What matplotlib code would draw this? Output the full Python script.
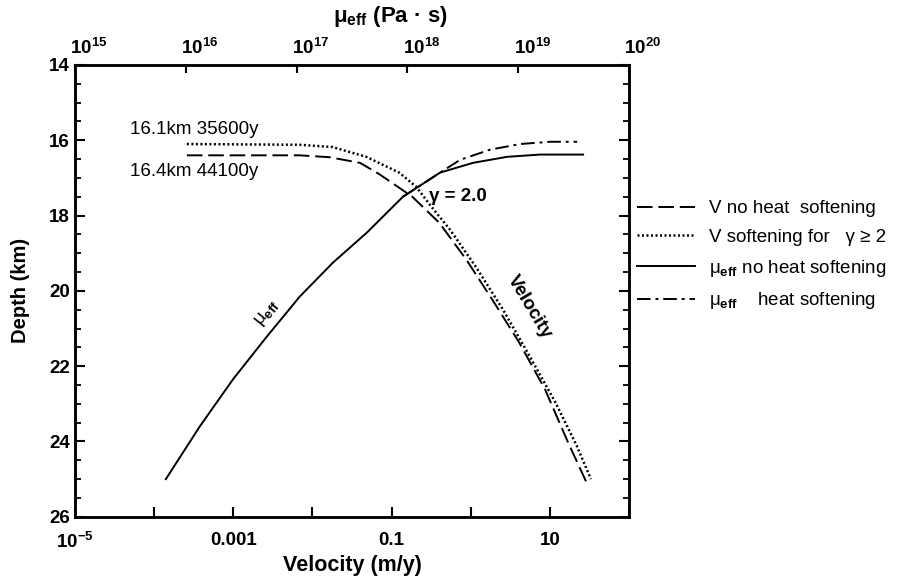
import matplotlib
matplotlib.use("Agg")
import matplotlib.pyplot as plt
from matplotlib.lines import Line2D
from matplotlib.transforms import ScaledTranslation
from matplotlib.ticker import FixedLocator, MultipleLocator, NullLocator, FixedFormatter

plt.rcParams["font.family"] = ["Liberation Sans", "DejaVu Sans"]
plt.rcParams["mathtext.fontset"] = "custom"
plt.rcParams["mathtext.rm"] = "Liberation Sans:bold"
plt.rcParams["mathtext.bf"] = "Liberation Sans:bold"
plt.rcParams["mathtext.it"] = "Liberation Sans:bold"
plt.rcParams["mathtext.default"] = "rm"

# velocity (m/y) vs depth (km), no heat softening (dashed)
vel_nosoft = [2.6e-4, 6.9e-3, 0.0164, 0.040, 0.070, 0.183, 0.40, 0.88, 1.87, 4.09, 8.7, 17.0, 28.6]
depth_vel_nosoft = [16.4, 16.4, 16.45, 16.6, 16.9, 17.5, 18.19, 19.17, 20.23, 21.37, 22.62, 24.03, 25.06]

# velocity with softening for gamma >= 2 (dotted)
vel_soft = [2.6e-4, 6.9e-3, 0.0179, 0.048, 0.125, 0.206, 0.32, 0.55, 1.16, 2.56, 5.6, 11.8, 22.0, 33.0]
depth_vel_soft = [16.1, 16.12, 16.18, 16.44, 16.86, 17.24, 17.77, 18.38, 19.36, 20.5, 21.75, 22.97, 24.13, 25.0]

# effective viscosity (Pa s), no heat softening (solid)
mu_nosoft = [6.62e15, 1.34e16, 2.67e16, 5.41e16, 1.07e17, 2.13e17, 4.32e17, 9.12e17,
             1.97e18, 3.91e18, 7.93e18, 1.57e19, 3.85e19]
depth_mu_nosoft = [25.0, 23.6, 22.35, 21.21, 20.15, 19.25, 18.45, 17.5, 16.86, 16.6, 16.44, 16.38, 16.38]

# effective viscosity with heat softening (dash-dot)
mu_soft = [9.12e17, 1.97e18, 2.99e18, 5.57e18, 1.04e19, 1.94e19, 3.40e19]
depth_mu_soft = [17.5, 16.86, 16.52, 16.25, 16.1, 16.04, 16.04]

vel_ticks = [1e-5, 1e-4, 1e-3, 1e-2, 1e-1, 1, 10, 100]
vel_ticklabels = ["$10^{-5}$", "", "0.001", "", "0.1", "", "10", ""]
mu_ticks = [1e15, 1e16, 1e17, 1e18, 1e19, 1e20]
mu_ticklabels = ["$10^{15}$", "$10^{16}$", "$10^{17}$", "$10^{18}$", "$10^{19}$", "$10^{20}$"]

fig = plt.figure(figsize=(9.13, 5.8), dpi=100)
ax = fig.add_axes([0.082, 0.109, 0.607, 0.779])
ax2 = ax.twiny()

lw = 1.4
dash_v = (8, 3)
dot_v = (0, (0.8, 1.0))
dashdot_mu = (0, (7, 2.5, 1.5, 2.5))
ax.plot(vel_nosoft, depth_vel_nosoft, color="black", lw=lw, dashes=dash_v)
ax.plot(vel_soft, depth_vel_soft, color="black", lw=1.8, linestyle=dot_v)
ax2.plot(mu_nosoft, depth_mu_nosoft, color="black", lw=lw)
ax2.plot(mu_soft, depth_mu_soft, color="black", lw=lw, linestyle=dashdot_mu)

ax.set_xscale("log")
ax.set_xlim(1e-5, 100)
ax.set_ylim(26, 14)
ax2.set_xscale("log")
ax2.set_xlim(1e15, 1e20)

ax.xaxis.set_major_locator(FixedLocator(vel_ticks))
ax.xaxis.set_major_formatter(FixedFormatter(vel_ticklabels))
ax.xaxis.set_minor_locator(NullLocator())
ax2.xaxis.set_major_locator(FixedLocator(mu_ticks))
ax2.xaxis.set_major_formatter(FixedFormatter(mu_ticklabels))
ax2.xaxis.set_minor_locator(NullLocator())
ax.yaxis.set_major_locator(MultipleLocator(2))
ax.yaxis.set_minor_locator(MultipleLocator(0.5))

ax.tick_params(axis="x", which="major", direction="in", length=7, width=1.5,
               labelsize=13.5, pad=11, top=False)
ax.tick_params(axis="y", which="major", direction="in", length=7, width=1.5,
               labelsize=13.5, right=True)
ax.tick_params(axis="y", which="minor", direction="in", length=4, width=1.3, right=True)
ax2.tick_params(axis="x", which="major", direction="in", length=6, width=1.5,
                labelsize=13.5, pad=5)
for lab in ax.get_yticklabels() + ax.get_xticklabels():
    lab.set_fontweight("bold")
# top labels sit a little right of their ticks in the original
shift = ScaledTranslation(10 / 72, 0, fig.dpi_scale_trans)
for lab in ax2.get_xticklabels():
    lab.set_transform(lab.get_transform() + shift)
for sp in list(ax.spines.values()) + list(ax2.spines.values()):
    sp.set_linewidth(1.8)

ax.set_xlabel("Velocity (m/y)", fontsize=15.5, fontweight="bold", labelpad=2)
ax.set_ylabel("Depth (km)", fontsize=14.5, fontweight="bold", labelpad=14)
ax2.set_xlabel("μ$_{eff}$ (Pa · s)", fontsize=16, fontweight="bold")
ax2.xaxis.set_label_coords(0.57, 1.095)

# annotations
ax.text(4.9e-5, 15.72, "16.1km 35600y", fontsize=13.5, va="center", ha="left")
ax.text(4.9e-5, 16.84, "16.4km 44100y", fontsize=13.5, va="center", ha="left")
ax.text(0.30, 17.5, "γ = 2.0", fontsize=13.5, fontweight="bold", va="center", ha="left")
ax.text(2.7e-3, 20.58, "μ$_{eff}$", fontsize=13.5, rotation=51, va="center", ha="center")
ax.text(5.47, 20.42, "Velocity", fontsize=13.5, fontweight="bold", rotation=-59,
        va="center", ha="center")

handles = [
    Line2D([], [], color="black", lw=lw, dashes=dash_v),
    Line2D([], [], color="black", lw=1.8, linestyle=dot_v),
    Line2D([], [], color="black", lw=lw),
    Line2D([], [], color="black", lw=lw, linestyle=dashdot_mu),
]
labels = [
    "V no heat  softening",
    "V softening for   γ ≥ 2",
    "μ$_{eff}$ no heat softening",
    "μ$_{eff}$    heat softening",
]
fig.legend(handles, labels, loc="upper left", bbox_to_anchor=(0.698, 0.655),
           frameon=False, fontsize=13.5, handlelength=3.1, handletextpad=0.7,
           labelspacing=0.62, borderpad=0, borderaxespad=0)

fig.savefig("out.png", dpi=100)
